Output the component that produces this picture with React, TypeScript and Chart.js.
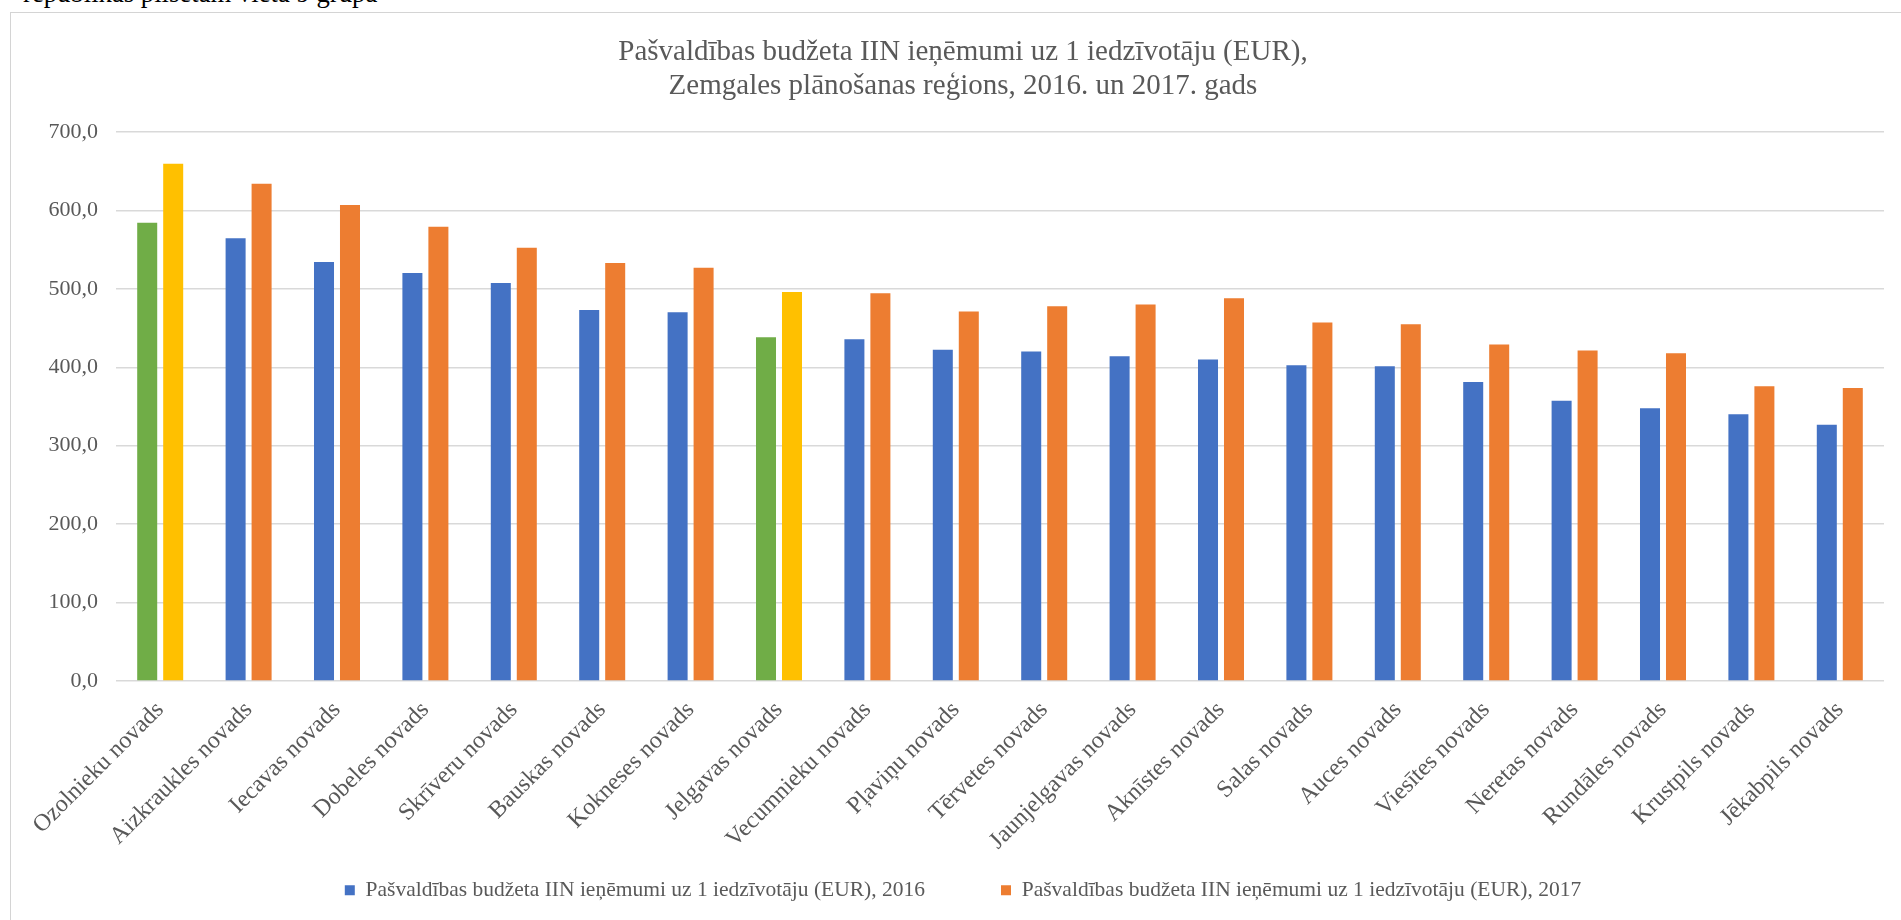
import React, { useEffect, useRef } from "react";
import { Chart, registerables } from "chart.js";

Chart.register(...registerables);

const categories = [
  "Ozolnieku novads",
  "Aizkraukles novads",
  "Iecavas novads",
  "Dobeles novads",
  "Skrīveru novads",
  "Bauskas novads",
  "Kokneses novads",
  "Jelgavas novads",
  "Vecumnieku novads",
  "Pļaviņu novads",
  "Tērvetes novads",
  "Jaunjelgavas novads",
  "Aknīstes novads",
  "Salas novads",
  "Auces novads",
  "Viesītes novads",
  "Neretas novads",
  "Rundāles novads",
  "Krustpils novads",
  "Jēkabpils novads",
];

const values2016 = [
  584.4, 564.5, 534.3, 520.2, 507.4, 473.0, 470.1, 438.4, 435.8, 422.2,
  420.1, 414.1, 409.9, 402.6, 401.3, 381.3, 357.4, 347.7, 340.0, 326.8,
];

const values2017 = [
  659.4, 633.9, 607.0, 579.2, 552.3, 532.9, 526.8, 495.9, 494.5, 471.1,
  477.9, 480.0, 488.1, 457.1, 454.9, 428.9, 421.3, 417.9, 375.7, 373.6,
];

const highlighted = ["Ozolnieku novads", "Jelgavas novads"];

const seriesLabels = [
  "Pašvaldības budžeta IIN ieņēmumi uz 1 iedzīvotāju (EUR), 2016",
  "Pašvaldības budžeta IIN ieņēmumi uz 1 iedzīvotāju (EUR), 2017",
];

const titleLines = [
  "Pašvaldības budžeta IIN ieņēmumi uz 1 iedzīvotāju (EUR),",
  "Zemgales plānošanas reģions, 2016. un 2017. gads",
];

const noteText = "republikas pilsētām vieta 9 grupa";

const yMin = 0;
const yMax = 700;
const yStep = 100;

const BLUE = "#4472C4";
const ORANGE = "#ED7D31";
const GREEN = "#70AD47";
const GOLD = "#FFC000";
const TEXT = "#595959";
const GRID = "#D9D9D9";
const FONT = "'Liberation Serif', 'Times New Roman', serif";

// keeps the rotated category labels from being clipped at the axis box
const unclipLabels = {
  id: "unclipLabels",
  afterLayout(chart: any) {
    const x = chart.scales.x;
    if (x) x.bottom = chart.height;
  },
};

function BarChart() {
  const ref = useRef<HTMLCanvasElement | null>(null);

  useEffect(() => {
    const canvas = ref.current;
    if (!canvas) return;
    const colors2016 = categories.map((c) => (highlighted.includes(c) ? GREEN : BLUE));
    const colors2017 = categories.map((c) => (highlighted.includes(c) ? GOLD : ORANGE));
    const legendColors = [BLUE, ORANGE];

    const chart = new Chart(canvas, {
      type: "bar",
      data: {
        labels: categories,
        datasets: [
          {
            label: seriesLabels[0],
            data: values2016,
            backgroundColor: colors2016,
            categoryPercentage: 0.588,
            barPercentage: 0.77,
          },
          {
            label: seriesLabels[1],
            data: values2017,
            backgroundColor: colors2017,
            categoryPercentage: 0.588,
            barPercentage: 0.77,
          },
        ],
      },
      options: {
        responsive: false,
        animation: false,
        devicePixelRatio: 1,
        layout: { padding: { left: 31, right: 31, top: 0, bottom: 9 } },
        plugins: {
          title: {
            display: true,
            text: titleLines,
            color: TEXT,
            font: { family: FONT, size: 29, weight: "normal", lineHeight: 34 / 29 },
            padding: { top: 22, bottom: 29 },
          },
          legend: {
            position: "bottom",
            labels: {
              boxWidth: 10,
              boxHeight: 10,
              padding: 76,
              color: TEXT,
              font: { family: FONT, size: 21.5 },
              generateLabels: (ch: any) =>
                ch.data.datasets.map((ds: any, i: number) => ({
                  text: ds.label,
                  fillStyle: legendColors[i],
                  strokeStyle: legendColors[i],
                  lineWidth: 0,
                  hidden: false,
                  datasetIndex: i,
                  fontColor: TEXT,
                })),
            },
          },
          tooltip: { enabled: false },
        },
        scales: {
          x: {
            grid: { display: false, drawTicks: false },
            border: { display: false },
            ticks: {
              color: TEXT,
              font: { family: FONT, size: 24 },
              maxRotation: 45,
              minRotation: 45,
              autoSkip: false,
              padding: 15,
            },
            afterFit: (s: any) => {
              s.height = 122.5;
            },
          },
          y: {
            min: yMin,
            max: yMax,
            grid: { color: GRID, lineWidth: 1.5, drawTicks: false },
            border: { display: false },
            ticks: {
              stepSize: yStep,
              color: TEXT,
              font: { family: FONT, size: 22 },
              padding: 18,
              callback: (v: any) => Number(v).toFixed(1).replace(".", ","),
            },
            afterFit: (s: any) => {
              s.width = 74;
            },
          },
        },
      },
      plugins: [unclipLabels],
    } as any);

    return () => chart.destroy();
  }, []);

  return <canvas ref={ref} width={1904} height={907} style={{ width: 1904, height: 907, display: "block" }} />;
}

export default function App() {
  return (
    <div
      style={{
        position: "absolute",
        left: 0,
        top: 0,
        width: 1901,
        height: 920,
        overflow: "hidden",
        background: "#ffffff",
      }}
    >
      <div
        style={{
          position: "absolute",
          left: 23,
          top: -20,
          fontFamily: FONT,
          fontSize: 26.7,
          lineHeight: "27px",
          color: "#000",
          whiteSpace: "nowrap",
        }}
      >
        {noteText}
      </div>
      <div
        style={{
          position: "absolute",
          left: 10,
          top: 12,
          borderLeft: "1px solid #d4d4d4",
          borderTop: "1px solid #d4d4d4",
          background: "#fff",
        }}
      >
        <BarChart />
      </div>
    </div>
  );
}
